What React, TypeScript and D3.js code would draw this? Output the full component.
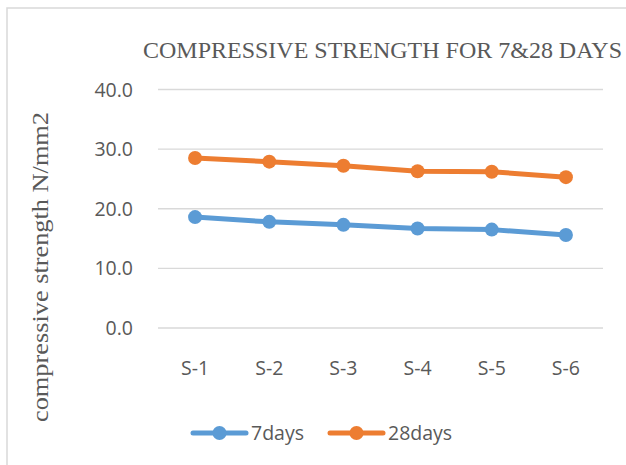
import React from "react";
import * as d3 from "d3";

const categories = ["S-1", "S-2", "S-3", "S-4", "S-5", "S-6"];
const days7 = [18.6, 17.8, 17.3, 16.7, 16.5, 15.6];
const days28 = [28.5, 27.9, 27.2, 26.3, 26.2, 25.3];
const yTicks = [0, 10, 20, 30, 40];
const seriesNames = ["7days", "28days"];
const seriesColors = ["#5B9BD5", "#ED7D31"];

const W = 626;
const H = 465;
const plot = { left: 158, right: 603, top: 89.5, bottom: 328 };
const SANS = "'Open Sans', 'Liberation Sans', sans-serif";
const SERIF = "'Liberation Serif', 'Times New Roman', serif";

export default function App() {
  const x = d3.scaleBand<string>().domain(categories).range([plot.left, plot.right]);
  const y = d3.scaleLinear().domain([0, 40]).range([plot.bottom, plot.top]);
  const cx = (i: number) => (x(categories[i]) as number) + x.bandwidth() / 2;
  const line = d3
    .line<number>()
    .x((_, i) => cx(i))
    .y((d) => y(d));
  const series = [days7, days28];
  const gray = "#595959";
  const legendX = [193, 330];

  return (
    <svg
      width={W}
      height={H}
      style={{ position: "absolute", left: 0, top: 0, background: "#fff" }}
    >
      <rect x={7} y={8} width={W} height={H} fill="#fff" stroke="#D9D9D9" strokeWidth={1.5} />
      <text
        x={382.5}
        y={58}
        textAnchor="middle"
        fontFamily={SERIF}
        fontSize={23.5}
        textLength={479}
        lengthAdjust="spacingAndGlyphs"
        fill={gray}
      >
        COMPRESSIVE STRENGTH FOR 7&amp;28 DAYS
      </text>
      {yTicks.map((t) => (
        <g key={t}>
          <line x1={plot.left} x2={plot.right} y1={y(t)} y2={y(t)} stroke="#D9D9D9" strokeWidth={1.3} />
          <text
            x={133}
            y={y(t)}
            dy="0.36em"
            textAnchor="end"
            fontFamily={SANS}
            fontSize={19.5}
            fill={gray}
          >
            {d3.format(".1f")(t)}
          </text>
        </g>
      ))}
      <text
        transform={`translate(48, 267) rotate(-90)`}
        textAnchor="middle"
        fontFamily={SERIF}
        fontSize={24}
        textLength={310}
        lengthAdjust="spacingAndGlyphs"
        fill={gray}
      >
        compressive strength N/mm2
      </text>
      {categories.map((c, i) => (
        <text
          key={c}
          x={cx(i)}
          y={368}
          dy="0.36em"
          textAnchor="middle"
          fontFamily={SANS}
          fontSize={19.5}
          fill={gray}
        >
          {c}
        </text>
      ))}
      {series.map((s, si) => (
        <g key={si}>
          <path d={line(s) || ""} fill="none" stroke={seriesColors[si]} strokeWidth={5} strokeLinejoin="round" strokeLinecap="round" />
          {s.map((v, i) => (
            <circle key={i} cx={cx(i)} cy={y(v)} r={7} fill={seriesColors[si]} />
          ))}
        </g>
      ))}
      {seriesNames.map((n, si) => (
        <g key={n}>
          <line
            x1={legendX[si]}
            x2={legendX[si] + 53}
            y1={433}
            y2={433}
            stroke={seriesColors[si]}
            strokeWidth={5}
            strokeLinecap="round"
          />
          <circle cx={legendX[si] + 26.5} cy={433} r={7} fill={seriesColors[si]} />
          <text
            x={legendX[si] + 58}
            y={433}
            dy="0.36em"
            fontFamily={SANS}
            fontSize={19.5}
            fill={gray}
          >
            {n}
          </text>
        </g>
      ))}
    </svg>
  );
}
